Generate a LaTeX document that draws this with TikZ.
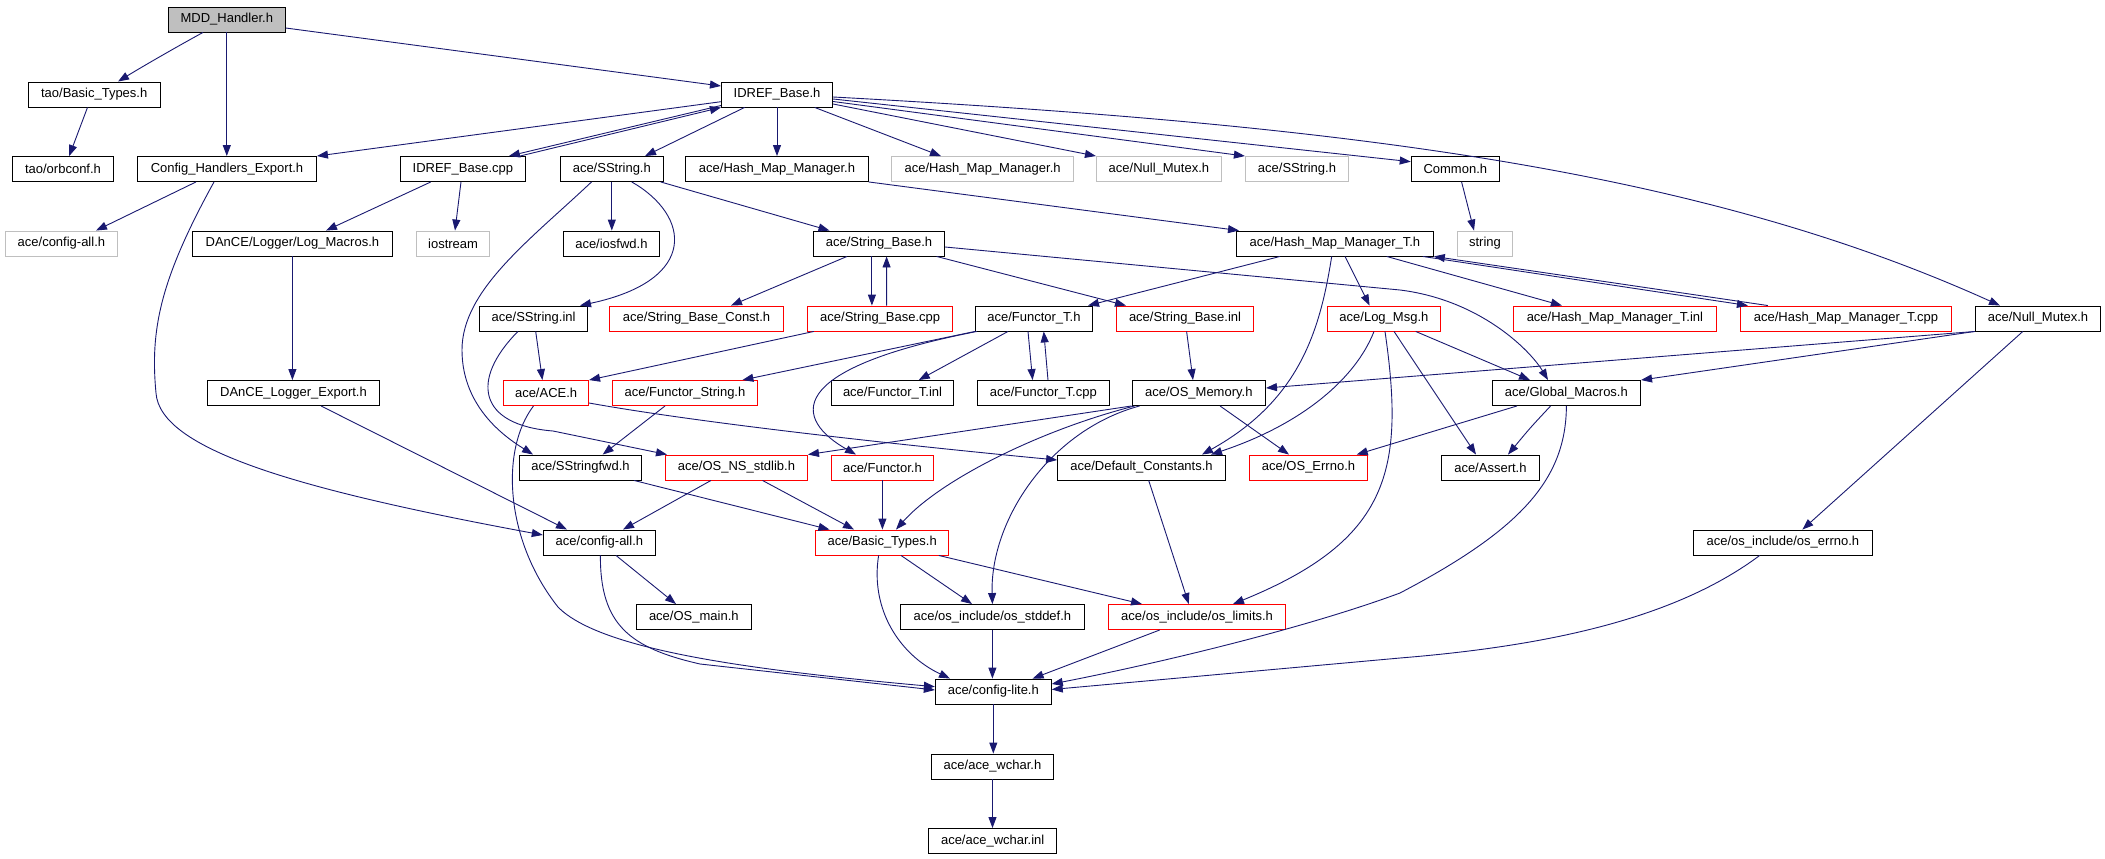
\documentclass[tikz,border=0pt]{standalone}
\usepackage{fontspec}
\setmainfont{Liberation Sans}
\usetikzlibrary{arrows.meta}
\definecolor{edgeblue}{HTML}{191970}
\definecolor{grey75}{HTML}{BFBFBF}
\begin{document}
\begin{tikzpicture}[x=1pt,y=-1pt,
  nd/.style={draw=black, line width=0.9pt, minimum height=25pt, inner sep=0pt, font=\fontsize{13pt}{15pt}\selectfont},
  ndred/.style={nd, draw=red},
  ndgrey/.style={nd, draw=grey75},
  dep/.style={draw=edgeblue, line width=0.9pt, -{Triangle[length=11pt,width=8pt]}}]
\useasboundingbox (0,0) rectangle (2105,859);
% row 0
\node[nd, fill=grey75, minimum width=117pt] (mdd) at (226.8,19.5) {MDD\_Handler.h};
% row 1
\node[nd, minimum width=132.2pt] (taobt) at (94.2,94.5) {tao/Basic\_Types.h};
\node[nd, minimum width=111.2pt] (idrefh) at (777,94.5) {IDREF\_Base.h};
% row 2
\node[nd, minimum width=101pt] (orbconf) at (63,169) {tao/orbconf.h};
\node[nd, minimum width=179pt] (che) at (227,169) {Config\_Handlers\_Export.h};
\node[nd, minimum width=125pt] (idrefcpp) at (462.9,169) {IDREF\_Base.cpp};
\node[nd, minimum width=103pt] (sstr) at (611.8,169) {ace/SString.h};
\node[nd, minimum width=182.6pt] (hmm) at (777,169) {ace/Hash\_Map\_Manager.h};
\node[ndgrey, minimum width=182.2pt] (hmmg) at (982.6,169) {ace/Hash\_Map\_Manager.h};
\node[ndgrey, minimum width=125pt] (nmg) at (1158.9,169) {ace/Null\_Mutex.h};
\node[ndgrey, minimum width=103.3pt] (sstrg) at (1297,169) {ace/SString.h};
\node[nd, minimum width=88.2pt] (common) at (1455.3,169) {Common.h};
% row 3
\node[ndgrey, minimum width=112pt] (cfgallg) at (61.4,243.5) {ace/config-all.h};
\node[nd, minimum width=200pt] (logmac) at (292.4,243.5) {DAnCE/Logger/Log\_Macros.h};
\node[ndgrey, minimum width=73.2pt] (iostream) at (453.1,243.5) {iostream};
\node[nd, minimum width=96pt] (iosfwd) at (611.4,243.5) {ace/iosfwd.h};
\node[nd, minimum width=131.2pt] (sbh) at (879,243.5) {ace/String\_Base.h};
\node[nd, minimum width=196.9pt] (hmmt) at (1334.9,243.5) {ace/Hash\_Map\_Manager\_T.h};
\node[ndgrey, minimum width=54.8pt] (string) at (1485,243.5) {string};
% row 4
\node[nd, minimum width=108.1pt] (sinl) at (533.6,318.5) {ace/SString.inl};
\node[ndred, minimum width=174.1pt] (sbconst) at (696.5,318.5) {ace/String\_Base\_Const.h};
\node[ndred, minimum width=145.1pt] (sbcpp) at (880.2,318.5) {ace/String\_Base.cpp};
\node[nd, minimum width=117pt] (ftorth) at (1033.9,318.5) {ace/Functor\_T.h};
\node[ndred, minimum width=137.1pt] (sbinl) at (1185,318.5) {ace/String\_Base.inl};
\node[ndred, minimum width=113.2pt] (logmsg) at (1383.9,318.5) {ace/Log\_Msg.h};
\node[ndred, minimum width=203.2pt] (hmmtinl) at (1614.9,318.5) {ace/Hash\_Map\_Manager\_T.inl};
\node[ndred, minimum width=211.3pt] (hmmtcpp) at (1846,318.5) {ace/Hash\_Map\_Manager\_T.cpp};
\node[nd, minimum width=125.3pt] (nm) at (2038,318.5) {ace/Null\_Mutex.h};
% row 5
\node[nd, minimum width=171.9pt] (ddlexp) at (293.5,393) {DAnCE\_Logger\_Export.h};
\node[ndred, minimum width=85pt] (aceh) at (546.1,393) {ace/ACE.h};
\node[ndred, minimum width=145.2pt] (fstr) at (685,393) {ace/Functor\_String.h};
\node[nd, minimum width=122.3pt] (ftortinl) at (892.5,393) {ace/Functor\_T.inl};
\node[nd, minimum width=132.2pt] (ftortcpp) at (1043.3,393) {ace/Functor\_T.cpp};
\node[nd, minimum width=133.4pt] (osmem) at (1198.8,393) {ace/OS\_Memory.h};
\node[nd, minimum width=148.4pt] (gmac) at (1566.4,393) {ace/Global\_Macros.h};
% row 6
\node[nd, minimum width=121.8pt] (sfwd) at (580.5,467.5) {ace/SStringfwd.h};
\node[ndred, minimum width=142.1pt] (stdlib) at (736.5,467.5) {ace/OS\_NS\_stdlib.h};
\node[ndred, minimum width=102.2pt] (functor) at (882.4,467.5) {ace/Functor.h};
\node[nd, minimum width=167.8pt] (defc) at (1141.5,467.5) {ace/Default\_Constants.h};
\node[ndred, minimum width=118pt] (oserrno) at (1308.5,467.5) {ace/OS\_Errno.h};
\node[nd, minimum width=98pt] (assert) at (1490.4,467.5) {ace/Assert.h};
% row 7
\node[nd, minimum width=112.3pt] (cfgall) at (599.4,542.5) {ace/config-all.h};
\node[ndred, minimum width=133.1pt] (abt) at (882.2,542.5) {ace/Basic\_Types.h};
\node[nd, minimum width=179.4pt] (errnoh) at (1782.9,542.5) {ace/os\_include/os\_errno.h};
% row 8
\node[nd, minimum width=115pt] (osmain) at (693.8,617) {ace/OS\_main.h};
\node[nd, minimum width=184pt] (stddef) at (992.4,617) {ace/os\_include/os\_stddef.h};
\node[ndred, minimum width=177.2pt] (limits) at (1197.1,617) {ace/os\_include/os\_limits.h};
% rows 9-11
\node[nd, minimum width=116pt] (lite) at (993.3,691.5) {ace/config-lite.h};
\node[nd, minimum width=122.3pt] (wchar) at (992.5,766.5) {ace/ace\_wchar.h};
\node[nd, minimum width=128.1pt] (wcharinl) at (992.7,841) {ace/ace\_wchar.inl};

% edges
\draw[dep] ([xshift=-23.8pt]mdd.south) .. controls (180,45) and (145,65) .. ([xshift=23.8pt]taobt.north);
\draw[dep] (mdd.south) -- (mdd.south |- che.north);
\draw[dep] ([yshift=-8.5pt]mdd.east) -- ([yshift=8.5pt]idrefh.west);
\draw[dep] ([xshift=-6.7pt]taobt.south) -- ([xshift=6.2pt]orbconf.north);
\draw[dep] ([yshift=-7.2pt]idrefh.west) -- (che.north east);
\draw[dep] ([yshift=-11pt]idrefh.west) -- ([xshift=46pt]idrefcpp.north);
\draw[dep] ([xshift=57pt]idrefcpp.north) -- (idrefh.south west);
\draw[dep] ([xshift=-32.4pt]idrefh.south) -- ([xshift=33.2pt]sstr.north);
\draw[dep] (idrefh.south) -- (idrefh.south |- hmm.north);
\draw[dep] ([xshift=37.7pt]idrefh.south) -- ([xshift=-41.6pt]hmmg.north);
\draw[dep] ([yshift=-9.5pt]idrefh.east) -- (nmg.north west);
\draw[dep] ([yshift=-7pt]idrefh.east) -- (sstrg.north west);
\draw[dep] ([yshift=-4.5pt]idrefh.east) -- ([yshift=7.3pt]common.west);
\draw[dep] ([yshift=-2.5pt]idrefh.east) .. controls (1350,125) and (1700,170) .. ([xshift=-38pt]nm.north);
\draw[dep] ([xshift=-32.1pt]idrefcpp.south) -- ([xshift=33.6pt]logmac.north);
\draw[dep] ([xshift=-1.9pt]idrefcpp.south) -- ([xshift=1.9pt]iostream.north);
\draw[dep] ([xshift=-31pt]che.south) -- ([xshift=34.6pt]cfgallg.north);
\draw[dep] ([xshift=-13pt]che.south) .. controls (160,280) and (150,330) .. (156,393) .. controls (160,450) and (300,490) .. ([yshift=7.5pt]cfgall.west);
\draw[dep] (sstr.south) -- (sstr.south |- iosfwd.north);
\draw[dep] ([xshift=19.9pt]sstr.south) .. controls (690,215) and (700,280) .. ([xshift=46.4pt]sinl.north);
\draw[dep] ([xshift=48.9pt]sstr.south) -- ([xshift=-49.5pt]sbh.north);
\draw[dep] ([xshift=-20.3pt]sstr.south) .. controls (530,240) and (462,290) .. (462,350) .. controls (462,410) and (510,440) .. ([xshift=-47.5pt]sfwd.north);
\draw[dep] (hmm.south east) -- ([xshift=3pt]hmmt.north west);
\draw[dep] ([xshift=6.3pt]common.south) -- ([xshift=-11pt]string.north);
\draw[dep] (logmac.south) -- (logmac.south |- ddlexp.north);
\draw[dep] ([xshift=27.5pt]ddlexp.south) -- ([xshift=-32.4pt]cfgall.north);
\draw[dep] ([xshift=-32pt]sbh.south) -- ([xshift=34.5pt]sbconst.north);
\draw[dep] ([xshift=-7.1pt]sbh.south) -- ([xshift=-8.3pt]sbcpp.north);
\draw[dep] ([xshift=6.4pt]sbcpp.north) -- ([xshift=7.6pt]sbh.south);
\draw[dep] ([xshift=57.6pt]sbh.south) -- ([xshift=-59pt]sbinl.north);
\draw[dep] ([yshift=-3.5pt]sbh.east) -- (1400,290) .. controls (1480,300) and (1530,350) .. ([xshift=-18.4pt]gmac.north);
\draw[dep] ([xshift=-54.9pt]hmmt.south) -- ([xshift=54.1pt]ftorth.north);
\draw[dep] ([xshift=-3.2pt]hmmt.south) .. controls (1320,330) and (1300,400) .. ([xshift=60.5pt]defc.north);
\draw[dep] ([xshift=10.1pt]hmmt.south) -- ([xshift=-14.3pt]logmsg.north);
\draw[dep] ([xshift=51.8pt]hmmt.south) -- ([xshift=-53pt]hmmtinl.north);
\draw[dep] ([xshift=-11pt]hmmt.south east) -- ([xshift=8pt]hmmtcpp.north west);
\draw[dep] ([xshift=28pt]hmmtcpp.north west) -- (hmmt.south east);
\draw[dep] ([xshift=2.1pt]sinl.south) -- ([xshift=-3.7pt]aceh.north);
\draw[dep] ([xshift=-15.7pt]sinl.south) .. controls (470,380) and (478,425) .. (553,431) -- ([xshift=2pt]stdlib.north west);
\draw[dep] ([xshift=-12.6pt]aceh.south) .. controls (500,450) and (505,540) .. (558,607) .. controls (600,650) and (750,670) .. ([yshift=4.8pt]lite.west);
\draw[dep] ([yshift=-10pt]aceh.east) .. controls (700,423) and (900,445) .. ([yshift=7.5pt]defc.west);
\draw[dep] ([xshift=-20pt]fstr.south) -- ([xshift=22.2pt]sfwd.north);
\draw[dep] ([xshift=-66.4pt]sbcpp.south) -- (aceh.north east);
\draw[dep] (ftorth.south west) -- ([xshift=57.4pt]fstr.north);
\draw[dep] ([xshift=-25.9pt]ftorth.south) -- ([xshift=26.25pt]ftortinl.north);
\draw[dep] ([xshift=-5.9pt]ftorth.south) -- ([xshift=-10.7pt]ftortcpp.north);
\draw[dep] ([xshift=4.7pt]ftortcpp.north) -- ([xshift=9.85pt]ftorth.south);
\draw[dep] ([xshift=2pt]ftorth.south west) .. controls (780,370) and (795,420) .. ([xshift=-26.4pt]functor.north);
\draw[dep] (osmem.south west) -- (stdlib.north east);
\draw[dep] ([xshift=3pt]osmem.south west) .. controls (1040,430) and (940,480) .. ([xshift=13.8pt]abt.north);
\draw[dep] ([xshift=8pt]osmem.south west) .. controls (1050,430) and (990,520) .. (stddef.north);
\draw[dep] ([xshift=21.2pt]osmem.south) -- ([xshift=-19.5pt]oserrno.north);
\draw[dep] ([xshift=1.6pt]sbinl.south) -- ([xshift=-5.8pt]osmem.north);
\draw[dep] ([xshift=-9.9pt]logmsg.south) .. controls (1355,380) and (1300,425) .. ([xshift=69.5pt]defc.north);
\draw[dep] ([xshift=1.1pt]logmsg.south) .. controls (1405,470) and (1390,540) .. ([xshift=35.9pt]limits.north);
\draw[dep] ([xshift=10.1pt]logmsg.south) -- ([xshift=-14.4pt]assert.north);
\draw[dep] ([xshift=31.8pt]logmsg.south) -- ([xshift=-36.4pt]gmac.north);
\draw[dep] (nm.south west) -- ([yshift=5pt]osmem.east);
\draw[dep] (nm.south west) -- (gmac.north east);
\draw[dep] ([xshift=-15.2pt]nm.south) -- ([xshift=19.5pt]errnoh.north);
\draw[dep] ([xshift=-49.4pt]gmac.south) -- ([xshift=48.2pt]oserrno.north);
\draw[dep] ([xshift=-15.8pt]gmac.south) .. controls (1530,428) .. ([xshift=17.6pt]assert.north);
\draw[dep] (gmac.south) .. controls (1566,480) and (1520,530) .. (1400,593) .. controls (1300,630) and (1150,665) .. ([yshift=7.5pt]lite.east);
\draw[dep] ([xshift=-23.2pt]errnoh.south) .. controls (1680,615) and (1560,645) .. (1400,658) -- ([yshift=2pt]lite.east);
\draw[dep] ([xshift=7.2pt]defc.south) -- ([xshift=-8.3pt]limits.north);
\draw[dep] ([xshift=53.5pt]sfwd.south) -- ([xshift=-52.7pt]abt.north);
\draw[dep] ([xshift=-25.5pt]stdlib.south) -- ([xshift=23.6pt]cfgall.north);
\draw[dep] ([xshift=26pt]stdlib.south) -- ([xshift=-28.2pt]abt.north);
\draw[dep] (functor.south) -- (functor.south |- abt.north);
\draw[dep] ([xshift=16.6pt]cfgall.south) -- ([xshift=-17.8pt]osmain.north);
\draw[dep] ([xshift=1pt]cfgall.south) .. controls (600,625) and (630,648) .. (700,664) -- ([yshift=1.5pt]lite.west);
\draw[dep] ([xshift=-3.6pt]abt.south) .. controls (870,610) and (900,655) .. ([xshift=-43.3pt]lite.north);
\draw[dep] ([xshift=18.8pt]abt.south) -- ([xshift=-20.4pt]stddef.north);
\draw[dep] ([xshift=56.6pt]abt.south) -- ([xshift=-55.1pt]limits.north);
\draw[dep] (stddef.south) -- (stddef.south |- lite.north);
\draw[dep] ([xshift=-37.3pt]limits.south) -- ([xshift=39.3pt]lite.north);
\draw[dep] (lite.south) -- (lite.south |- wchar.north);
\draw[dep] (wchar.south) -- (wchar.south |- wcharinl.north);
\end{tikzpicture}
\end{document}
